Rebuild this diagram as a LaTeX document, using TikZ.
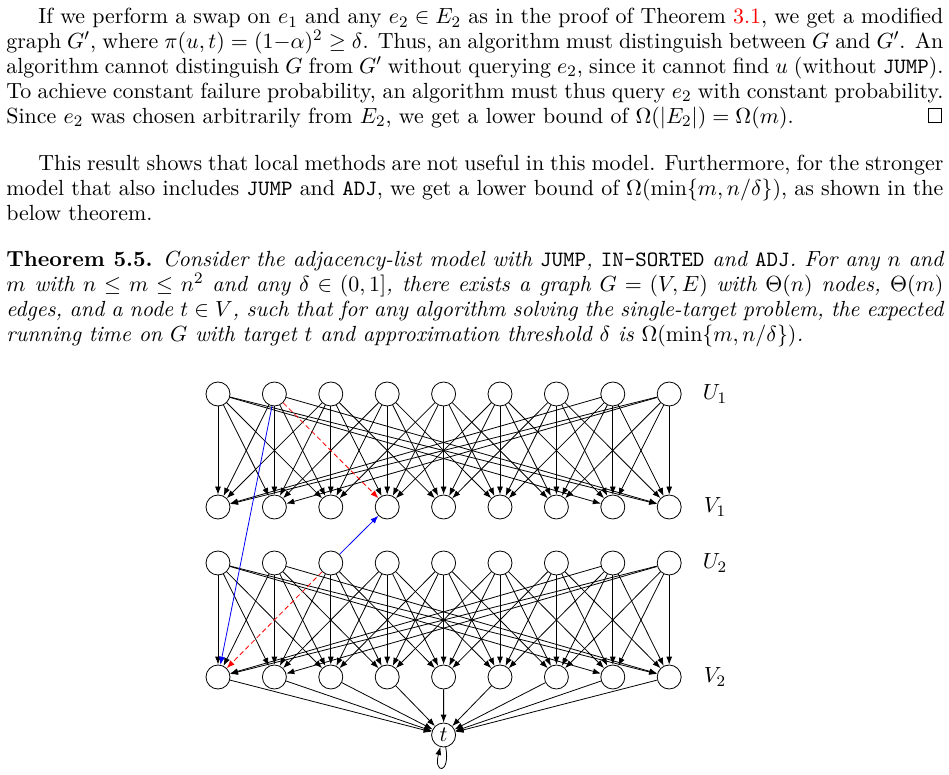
\documentclass[tikz,border=0pt]{standalone}
\usepackage{amsmath,amssymb}
\usetikzlibrary{arrows.meta}
\newcommand\myqedbox{\leavevmode\hbox to.77778em{\hfil\vrule\vbox to.675em{\hrule width.6em\vfil\hrule}\vrule\hfil}}
\newcommand\myind{\hspace*{16pt}}
\newcommand\mytt[1]{\texttt{\upshape #1}}
\begin{document}
\begin{tikzpicture}[x=0.5pt,y=-0.5pt,
  every node/.append style={font=\fontsize{10.95}{12.4}\selectfont},
  vtx/.style={circle,draw,minimum size=12pt,inner sep=0pt},
  edge/.style={-{Latex[length=4pt,width=3pt]}},
  swapold/.style={edge,red,dash pattern=on 2.5pt off 1.5pt},
  swapnew/.style={edge,blue},
  txt/.style={anchor=base west,inner sep=0pt},
  lbl/.style={inner sep=0pt}]
\useasboundingbox (0,0) rectangle (949,775);

\node[txt] (p1) at (6,24) {\parbox[t]{468.5pt}{\myind If we perform a swap on $e_1$ and any $e_2 \in E_2$ as in the proof of Theorem \textcolor{red}{3.1}, we get a modified\linebreak
graph $G'$, where $\pi(u,t) = (1{-}\alpha)^2 \geq \delta$. Thus, an algorithm must distinguish between $G$ and $G'$. An\linebreak
algorithm cannot distinguish $G$ from $G'$ without querying $e_2$, since it cannot find $u$ (without \mytt{JUMP}).\linebreak
To achieve constant failure probability, an algorithm must thus query $e_2$ with constant probability.\linebreak
Since $e_2$ was chosen arbitrarily from $E_2$, we get a lower bound of $\Omega(|E_2|) = \Omega(m)$.\hskip 0pt plus 1filll\myqedbox}};

\node[txt] (p2) at (6,171) {\parbox[t]{468.5pt}{\myind This result shows that local methods are not useful in this model. Furthermore, for the stronger\linebreak
model that also includes \mytt{JUMP} and \mytt{ADJ}, we get a lower bound of $\Omega(\min\{m, n/\delta\})$, as shown in the\linebreak
below theorem.}};

\node[txt] (p3) at (6,267) {\parbox[t]{468.5pt}{\textbf{Theorem 5.5.} \itshape Consider the adjacency-list model with \mytt{JUMP}, \mytt{IN-SORTED} and \mytt{ADJ}. For any $n$ and\linebreak
$m$ with $n \leq m \leq n^2$ and any $\delta \in (0,1]$, there exists a graph $G = (V,E)$ with $\Theta(n)$ nodes, $\Theta(m)$\linebreak
edges, and a node $t \in V$, such that for any algorithm solving the single-target problem, the expected\linebreak
running time on $G$ with target $t$ and approximation threshold $\delta$ is $\Omega(\min\{m, n/\delta\})$.}};

\foreach \i in {1,...,9} {
  \pgfmathsetmacro\xx{218+(\i-1)*56.4}
  \node[vtx] (a\i) at (\xx,394) {};
  \node[vtx] (b\i) at (\xx,507) {};
  \node[vtx] (c\i) at (\xx,563) {};
  \node[vtx] (d\i) at (\xx,677) {};
}
\node[vtx] (t) at (443.6,735) {$t$};

\node[lbl] (lu1) at (715,394) {$U_1$};
\node[lbl] (lv1) at (715,507) {$V_1$};
\node[lbl] (lu2) at (715,563) {$U_2$};
\node[lbl] (lv2) at (715,677) {$V_2$};

\foreach \i in {1,...,9} {
  \foreach \k in {-2,...,2} {
    \pgfmathtruncatemacro\j{mod(\i+\k+8,9)+1}
    \pgfmathtruncatemacro\skA{and(\i==2,\j==4)}
    \pgfmathtruncatemacro\skB{and(\i==3,\j==1)}
    \ifnum\skA=0 \draw[edge] (a\i) -- (b\j);\fi
    \ifnum\skB=0 \draw[edge] (c\i) -- (d\j);\fi
  }
  \draw[edge] (d\i) -- (t);
}
\draw[edge] (t) to[out=-80,in=-105,min distance=14pt] (t);

\draw[swapold] (a2) -- (b4);
\draw[swapold] (c3) -- (d1);
\draw[swapnew] (a2) -- (d1);
\draw[swapnew] (c3) -- (b4);
\end{tikzpicture}
\end{document}
